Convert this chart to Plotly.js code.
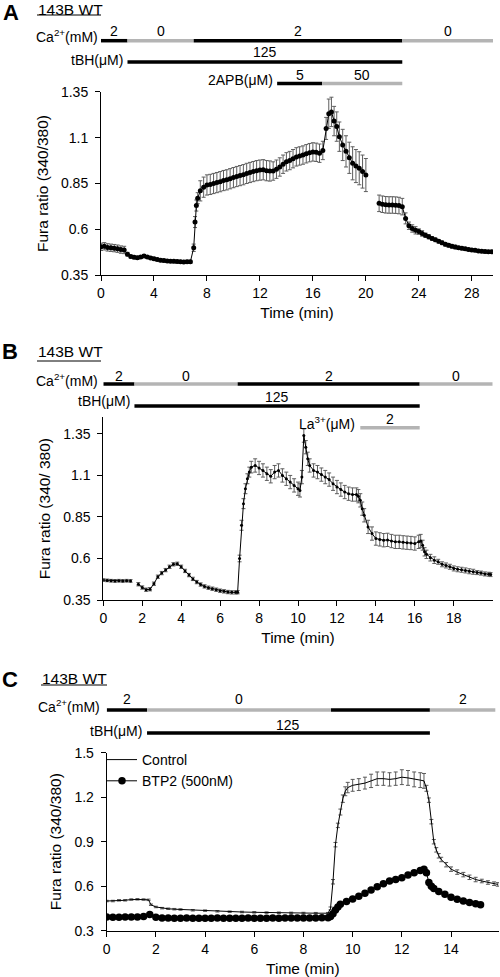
<!DOCTYPE html>
<html>
<head>
<meta charset="utf-8">
<script src="https://cdn.plot.ly/plotly-3.0.1.min.js"></script>
<style>html,body{margin:0;padding:0;background:#fff;}#chart{width:500px;height:977px;}</style>
</head>
<body>
<div id="chart"></div>
<script>
// ---------------- DATA ----------------
// Panel A (143B WT, 2APB)
const timeA = [0,0.25,0.5,0.75,1,1.25,1.5,1.75,2,2.25,2.5,2.75,3,3.25,3.5,3.75,4,4.25,4.5,4.75,5,5.25,5.5,5.75,6,6.25,6.5,6.75,
  7,7.1,7.2,7.3,7.5,7.75,8,8.25,8.5,8.75,9,9.25,9.5,9.75,10,10.25,10.5,10.75,11,11.25,11.5,11.75,12,12.25,12.5,12.75,13,13.25,13.5,13.75,
  14,14.25,14.5,14.75,15,15.25,15.5,15.75,16,16.25,16.5,16.75,17,17.2,17.4,17.6,17.8,18,18.25,18.5,18.75,19,19.25,19.5,19.75,20,
  20.5,
  21,21.25,21.5,21.75,22,22.25,22.5,22.75,23,23.25,23.5,23.75,24,24.25,24.5,24.75,25,25.25,25.5,25.75,26,26.25,26.5,26.75,27,27.25,27.5,27.75,
  28,28.25,28.5,28.75,29,29.25,29.5];
const furaA = [0.505,0.508,0.502,0.500,0.498,0.495,0.490,0.488,0.465,0.452,0.448,0.446,0.450,0.455,0.450,0.444,0.440,0.436,0.432,0.430,0.428,0.427,0.426,0.425,0.424,0.423,0.424,0.424,
  0.50,0.64,0.73,0.77,0.81,0.83,0.842,0.845,0.85,0.855,0.86,0.866,0.87,0.876,0.882,0.888,0.893,0.898,0.905,0.91,0.915,0.92,0.923,0.925,0.92,0.918,0.918,0.928,0.94,0.955,
  0.968,0.975,0.985,0.995,1.0,1.005,1.012,1.018,1.022,1.02,1.015,1.03,1.15,1.23,1.24,1.19,1.16,1.105,1.06,1.025,0.99,0.96,0.945,0.933,0.915,0.896,
  null,
  0.742,0.737,0.734,0.733,0.733,0.732,0.73,0.724,0.66,0.62,0.605,0.595,0.588,0.578,0.568,0.56,0.551,0.543,0.535,0.527,0.519,0.513,0.508,0.504,0.500,0.497,0.494,0.491,
  0.488,0.486,0.483,0.481,0.479,0.478,0.478];
const semA = [0.02,0.02,0.02,0.02,0.02,0.02,0.02,0.02,0.01,0.008,0.008,0.008,0.008,0.008,0.008,0.008,0.008,0.008,0.008,0.008,0.008,0.008,0.008,0.008,0.008,0.008,0.008,0.008,
  0.02,0.03,0.03,0.03,0.055,0.055,0.055,0.055,0.055,0.055,0.055,0.055,0.055,0.055,0.055,0.055,0.055,0.055,0.055,0.055,0.055,0.055,0.055,0.055,0.055,0.055,0.05,0.05,0.05,0.05,
  0.05,0.05,0.05,0.05,0.05,0.05,0.05,0.05,0.05,0.05,0.05,0.05,0.06,0.08,0.08,0.08,0.08,0.08,0.085,0.085,0.085,0.09,0.09,0.09,0.09,0.09,
  null,
  0.045,0.045,0.045,0.045,0.045,0.045,0.045,0.045,0.03,0.02,0.02,0.02,0.015,0.015,0.012,0.012,0.01,0.01,0.01,0.01,0.01,0.01,0.01,0.01,0.008,0.008,0.008,0.008,
  0.008,0.008,0.008,0.008,0.008,0.008,0.008];
const caEdgesA = [0,2,7,22.75,29.6];
const caLevelsA = ['2','0','2','0'];
const caShadeA = ['on','off','on','off'];
const tbhEdgesA = [2,22.75];
const tbhLevelsA = ['125'];
const apbEdgesA = [13.3,16.7,22.75];
const apbLevelsA = ['5','50'];
const apbShadeA = ['on','off'];
const xTicksA = [0,4,8,12,16,20,24,28];
const yTicksAB = [0.35,0.6,0.85,1.1,1.35];
const yTickTextAB = ['0.35','0.6','0.85','1.1','1.35'];

// Panel B (143B WT, La3+)
const timeB = [0,0.2,0.4,0.6,0.8,1.0,1.2,1.4,1.6,1.8,2.0,2.2,2.4,2.6,2.8,3.0,3.2,3.4,3.6,3.8,4.0,4.2,4.4,4.6,4.8,5.0,5.2,5.4,5.6,5.8,6.0,6.2,6.4,6.6,6.8,6.9,
  7.0,7.1,7.2,7.3,7.4,7.5,7.6,7.8,8.0,8.2,8.4,8.6,8.8,9.0,9.2,9.4,9.6,9.8,10.0,10.1,10.2,10.3,10.4,10.5,10.6,10.8,11.0,11.2,11.4,11.6,11.8,12.0,
  12.2,12.4,12.6,12.8,13.0,13.1,13.2,13.3,13.4,13.6,13.8,14.0,14.2,14.4,14.6,14.8,15.0,15.2,15.4,15.6,15.8,16.0,16.2,16.3,16.4,16.5,16.6,16.8,
  17.0,17.2,17.4,17.6,17.8,18.0,18.2,18.4,18.6,18.8,19.0,19.2,19.4,19.6,19.8,19.9];
const furaB = [0.47,0.468,0.466,0.465,0.466,0.465,0.466,0.465,null,0.445,0.425,0.412,0.415,0.448,0.49,0.512,0.53,0.55,0.565,0.568,0.55,0.525,0.5,0.477,0.458,0.443,0.432,0.424,0.418,0.412,0.406,0.402,0.398,0.396,0.396,0.397,
  0.60,0.80,0.93,1.02,1.08,1.12,1.15,1.16,1.145,1.13,1.11,1.095,1.12,1.13,1.10,1.08,1.06,1.04,1.02,1.01,1.09,1.34,1.27,1.20,1.16,1.13,1.12,1.105,1.09,1.075,1.05,1.03,
  1.015,1.0,0.99,0.985,0.985,0.975,0.95,0.90,0.86,0.79,0.75,0.72,0.715,0.71,0.712,0.705,0.70,0.70,0.697,0.695,0.693,0.69,0.70,0.705,0.68,0.64,0.625,0.605,
  0.59,0.58,0.565,0.558,0.55,0.54,0.535,0.532,0.528,0.523,0.52,0.515,0.512,0.507,0.505,0.503];
const semB = [0.008,0.008,0.008,0.008,0.008,0.008,0.008,0.008,null,0.01,0.01,0.01,0.01,0.01,0.01,0.01,0.01,0.01,0.01,0.01,0.01,0.01,0.01,0.01,0.01,0.01,0.01,0.01,0.01,0.01,0.01,0.01,0.01,0.01,0.01,0.01,
  0.02,0.03,0.03,0.03,0.03,0.03,0.035,0.04,0.04,0.04,0.04,0.04,0.04,0.04,0.04,0.04,0.04,0.04,0.04,0.04,0.04,0.04,0.04,0.04,0.04,0.04,0.04,0.04,0.04,0.04,0.04,0.04,
  0.04,0.04,0.04,0.04,0.04,0.04,0.04,0.04,0.04,0.04,0.04,0.04,0.04,0.04,0.04,0.04,0.04,0.04,0.04,0.04,0.04,0.04,0.04,0.04,0.03,0.025,0.025,0.02,
  0.02,0.015,0.015,0.015,0.015,0.015,0.015,0.015,0.015,0.015,0.015,0.012,0.012,0.012,0.012,0.012];
const caEdgesB = [0,1.6,6.9,16.25,20];
const caLevelsB = ['2','0','2','0'];
const caShadeB = ['on','off','on','off'];
const tbhEdgesB = [1.6,16.25];
const tbhLevelsB = ['125'];
const laEdgesB = [13.2,16.25];
const laLevelsB = ['2'];
const laShadeB = ['off'];
const xTicksB = [0,2,4,6,8,10,12,14,16,18];

// Panel C (143B WT, Control vs BTP2)
const timeCtrl = [0,0.25,0.5,0.75,1,1.25,1.5,1.7,1.8,2,2.25,2.5,2.75,3,3.5,4,4.5,5,5.5,6,6.5,7,7.5,8,8.5,9,
  9.1,9.2,9.3,9.4,9.5,9.6,9.7,9.8,10,10.25,10.5,10.75,11,11.25,11.5,11.75,12,12.25,12.5,12.75,12.9,
  13,13.1,13.2,13.3,13.4,13.5,13.6,13.8,14,14.25,14.5,14.75,15,15.25,15.5,15.75,15.9];
const furaCtrl = [0.50,0.50,0.505,0.505,0.51,0.512,0.51,0.508,0.475,0.46,0.452,0.448,0.445,0.443,0.438,0.435,0.431,0.428,0.426,0.424,0.422,0.421,0.42,0.419,0.418,0.418,
  0.45,0.63,0.88,1.01,1.10,1.19,1.24,1.265,1.28,1.285,1.295,1.31,1.325,1.325,1.32,1.325,1.335,1.33,1.32,1.315,1.31,
  1.26,1.18,1.035,0.90,0.845,0.805,0.78,0.745,0.715,0.695,0.678,0.66,0.645,0.635,0.625,0.617,0.612];
const semCtrl = [0.005,0.005,0.005,0.005,0.005,0.005,0.005,0.005,0.005,0.005,0.005,0.005,0.005,0.005,0.005,0.005,0.005,0.005,0.005,0.005,0.005,0.005,0.005,0.005,0.005,0.005,
  0.01,0.015,0.015,0.015,0.02,0.025,0.03,0.035,0.04,0.04,0.04,0.045,0.045,0.045,0.045,0.045,0.05,0.05,0.05,0.05,0.05,
  0.02,0.015,0.015,0.015,0.015,0.015,0.015,0.015,0.015,0.015,0.015,0.015,0.015,0.012,0.012,0.012,0.012];
const timeBTP2 = [0,0.25,0.5,0.75,1,1.25,1.5,1.75,2,2.25,2.5,2.75,3,3.25,3.5,3.75,4,4.25,4.5,4.75,5,5.25,5.5,5.75,6,6.25,6.5,6.75,7,7.25,7.5,7.75,8,8.25,8.5,8.75,9,
  9.1,9.2,9.3,9.4,9.5,9.75,10,10.25,10.5,10.75,11,11.25,11.5,11.75,12,12.25,12.5,12.75,12.9,13,13.1,13.2,13.3,13.5,13.75,14,14.25,14.5,14.75,15,15.2];
const furaBTP2 = [0.392,0.39,0.39,0.392,0.392,0.393,0.395,0.41,0.39,0.385,0.385,0.384,0.384,0.385,0.384,0.384,0.384,0.384,0.385,0.384,0.384,0.384,0.384,0.385,0.384,0.384,0.384,0.385,0.384,0.385,0.385,0.386,0.386,0.386,0.386,0.387,0.388,
  0.395,0.415,0.44,0.46,0.478,0.497,0.514,0.533,0.552,0.575,0.597,0.617,0.635,0.646,0.657,0.675,0.69,0.705,0.715,0.69,0.625,0.6,0.585,0.565,0.545,0.525,0.512,0.50,0.49,0.482,0.475];
const semBTP2 = timeBTP2.map(() => 0.01);
const caEdgesC = [0,1.64,9.12,13.14,15.8];
const caLevelsC = ['2','0','','2'];
const caShadeC = ['on','off','on','off'];
const tbhEdgesC = [1.64,13.14];
const tbhLevelsC = ['125'];
const xTicksC = [0,2,4,6,8,10,12,14];
const yTicksC = [0.3,0.6,0.9,1.2,1.5];
const yTickTextC = ['0.3','0.6','0.9','1.2','1.5'];

// ---------------- LAYOUT HELPERS ----------------
const W = 500, H = 977;
const FONT = 'Arial, "Liberation Sans", sans-serif';
const px = p => p / W;
const py = p => 1 - p / H;
const shadeColor = {on: '#000000', off: '#b4b4b4'};

const shapes = [];
const annotations = [];

function row(xref, edges, labels, shades, barY, labelY, name, nameRight, nameY) {
  for (let i = 0; i < edges.length - 1; i++) {
    shapes.push({type: 'line', xref: xref, yref: 'paper', x0: edges[i], x1: edges[i + 1],
      y0: py(barY), y1: py(barY), line: {color: shadeColor[shades ? shades[i] : 'on'], width: 3.5}, layer: 'above'});
    if (labels[i]) {
      annotations.push({xref: xref, yref: 'paper', x: (edges[i] + edges[i + 1]) / 2, y: py(labelY),
        text: labels[i], showarrow: false, xanchor: 'center', yanchor: 'middle', font: {size: 14, color: '#000', family: FONT}});
    }
  }
  annotations.push({xref: 'paper', yref: 'paper', x: px(nameRight), y: py(nameY), text: name, showarrow: false,
    xanchor: 'right', yanchor: 'middle', font: {size: 14, color: '#000', family: FONT}});
}

function header(letter, letterX, letterY, wtLeft, wtY, ulY, ulRight) {
  annotations.push({xref: 'paper', yref: 'paper', x: px(letterX), y: py(letterY), text: '<b>' + letter + '</b>',
    showarrow: false, xanchor: 'center', yanchor: 'middle', font: {size: 22, color: '#000', family: FONT}});
  annotations.push({xref: 'paper', yref: 'paper', x: px(wtLeft), y: py(wtY), text: '143B WT',
    showarrow: false, xanchor: 'left', yanchor: 'middle', xshift: -1, font: {size: 15.5, color: '#000', family: FONT}});
  shapes.push({type: 'line', xref: 'paper', yref: 'paper', x0: px(wtLeft), x1: px(ulRight), y0: py(ulY), y1: py(ulY),
    line: {color: '#000', width: 1}});
}

// Panel A header and treatment bars
header('A', 11, 12.5, 37, 9.5, 15, 101);
row('x', caEdgesA, caLevelsA, caShadeA, 40.7, 30.5, 'Ca<sup>2+</sup>(mM)', 100, 35.5);
row('x', tbhEdgesA, tbhLevelsA, null, 62, 52, 'tBH(\u03bcM)', 125, 59.5);
row('x', apbEdgesA, apbLevelsA, apbShadeA, 83.5, 74.5, '2APB(\u03bcM)', 275, 79.5);

// Panel B
header('B', 10, 351, 37, 351.5, 361, 101);
row('x2', caEdgesB, caLevelsB, caShadeB, 384, 375.5, 'Ca<sup>2+</sup>(mM)', 100, 379.5);
row('x2', tbhEdgesB, tbhLevelsB, null, 406, 397, 'tBH(\u03bcM)', 131.7, 401);
row('x2', laEdgesB, laLevelsB, laShadeB, 427.7, 419, 'La<sup>3+</sup>(\u03bcM)', 357, 422.5);

// Panel C
header('C', 10, 679, 41, 678, 685, 107);
row('x3', caEdgesC, caLevelsC, caShadeC, 710, 699, 'Ca<sup>2+</sup>(mM)', 101.7, 705.5);
row('x3', tbhEdgesC, tbhLevelsC, null, 733, 724.5, 'tBH(\u03bcM)', 144, 731);

// ---------------- AXES ----------------
function axisBase() {
  return {showline: true, linecolor: '#000', linewidth: 1, ticks: 'outside', ticklen: 5, tickwidth: 1, tickcolor: '#000',
    showgrid: false, zeroline: false, tickfont: {size: 14, color: '#000', family: FONT}, fixedrange: true};
}
function xAx(domain, range, ticks, anchor) {
  return Object.assign(axisBase(), {domain: domain, range: range, anchor: anchor, tickmode: 'array', tickvals: ticks,
    ticktext: ticks.map(String), ticklabelstandoff: 0,
    title: {text: 'Time (min)', font: {size: 15.5, color: '#000', family: FONT}, standoff: 7}});
}
function yAx(domain, range, ticks, texts, anchor, title) {
  return Object.assign(axisBase(), {domain: domain, range: range, anchor: anchor, tickmode: 'array', tickvals: ticks,
    ticktext: texts, ticklabelstandoff: 4,
    title: {text: title, font: {size: 15.5, color: '#000', family: FONT}, standoff: 8}});
}

const errStyle = (arr, color) => ({type: 'data', array: arr, visible: true, color: color, thickness: 1, width: 2});

const traces = [
  {x: timeA, y: furaA, xaxis: 'x', yaxis: 'y', type: 'scatter', mode: 'lines+markers', showlegend: false,
    line: {color: '#000', width: 1}, marker: {color: '#000', size: 5}, error_y: errStyle(semA, '#5e5e5e'), connectgaps: false},
  {x: timeB, y: furaB, xaxis: 'x2', yaxis: 'y2', type: 'scatter', mode: 'lines+markers', showlegend: false,
    line: {color: '#000', width: 1}, marker: {color: '#000', size: 3}, error_y: errStyle(semB, '#5e5e5e'), connectgaps: false},
  {x: timeCtrl, y: furaCtrl, xaxis: 'x3', yaxis: 'y3', type: 'scatter', mode: 'lines', name: 'Control',
    line: {color: '#000', width: 1}, error_y: errStyle(semCtrl, '#5a5a5a')},
  {x: timeBTP2, y: furaBTP2, xaxis: 'x3', yaxis: 'y3', type: 'scatter', mode: 'lines+markers', name: 'BTP2 (500nM)',
    line: {color: '#000', width: 1}, marker: {color: '#000', size: 7.5}, error_y: errStyle(semBTP2, '#5a5a5a')}
];

const layout = {
  width: W, height: H,
  margin: {l: 0, r: 0, t: 0, b: 0, pad: 0},
  paper_bgcolor: '#fff', plot_bgcolor: 'rgba(0,0,0,0)',
  font: {family: FONT, color: '#000'},
  showlegend: true,
  legend: {x: px(102), y: py(744), xanchor: 'left', yanchor: 'top', bgcolor: 'rgba(0,0,0,0)', borderwidth: 0,
    font: {size: 14, color: '#000', family: FONT}, itemwidth: 30, tracegroupgap: 0},
  xaxis: xAx([101 / W, 493 / W], [0, 29.6], xTicksA, 'y'),
  yaxis: yAx([py(275.3), py(91.7)], [0.35, 1.35], yTicksAB, yTickTextAB, 'x', 'Fura ratio (340/380)'),
  xaxis2: xAx([103.3 / W, 492.7 / W], [0, 20], xTicksB, 'y2'),
  yaxis2: yAx([py(600), py(417.3)], [0.35, 1.45], yTicksAB, yTickTextAB, 'x2', 'Fura ratio (340/ 380)'),
  xaxis3: xAx([106.7 / W, 499 / W], [0, 15.95], xTicksC, 'y3'),
  yaxis3: yAx([py(930.7), py(752.7)], [0.3, 1.5], yTicksC, yTickTextC, 'x3', 'Fura ratio (340/380)'),
  shapes: shapes,
  annotations: annotations
};

Plotly.newPlot('chart', traces, layout, {staticPlot: true, displayModeBar: false});
</script>
</body>
</html>
